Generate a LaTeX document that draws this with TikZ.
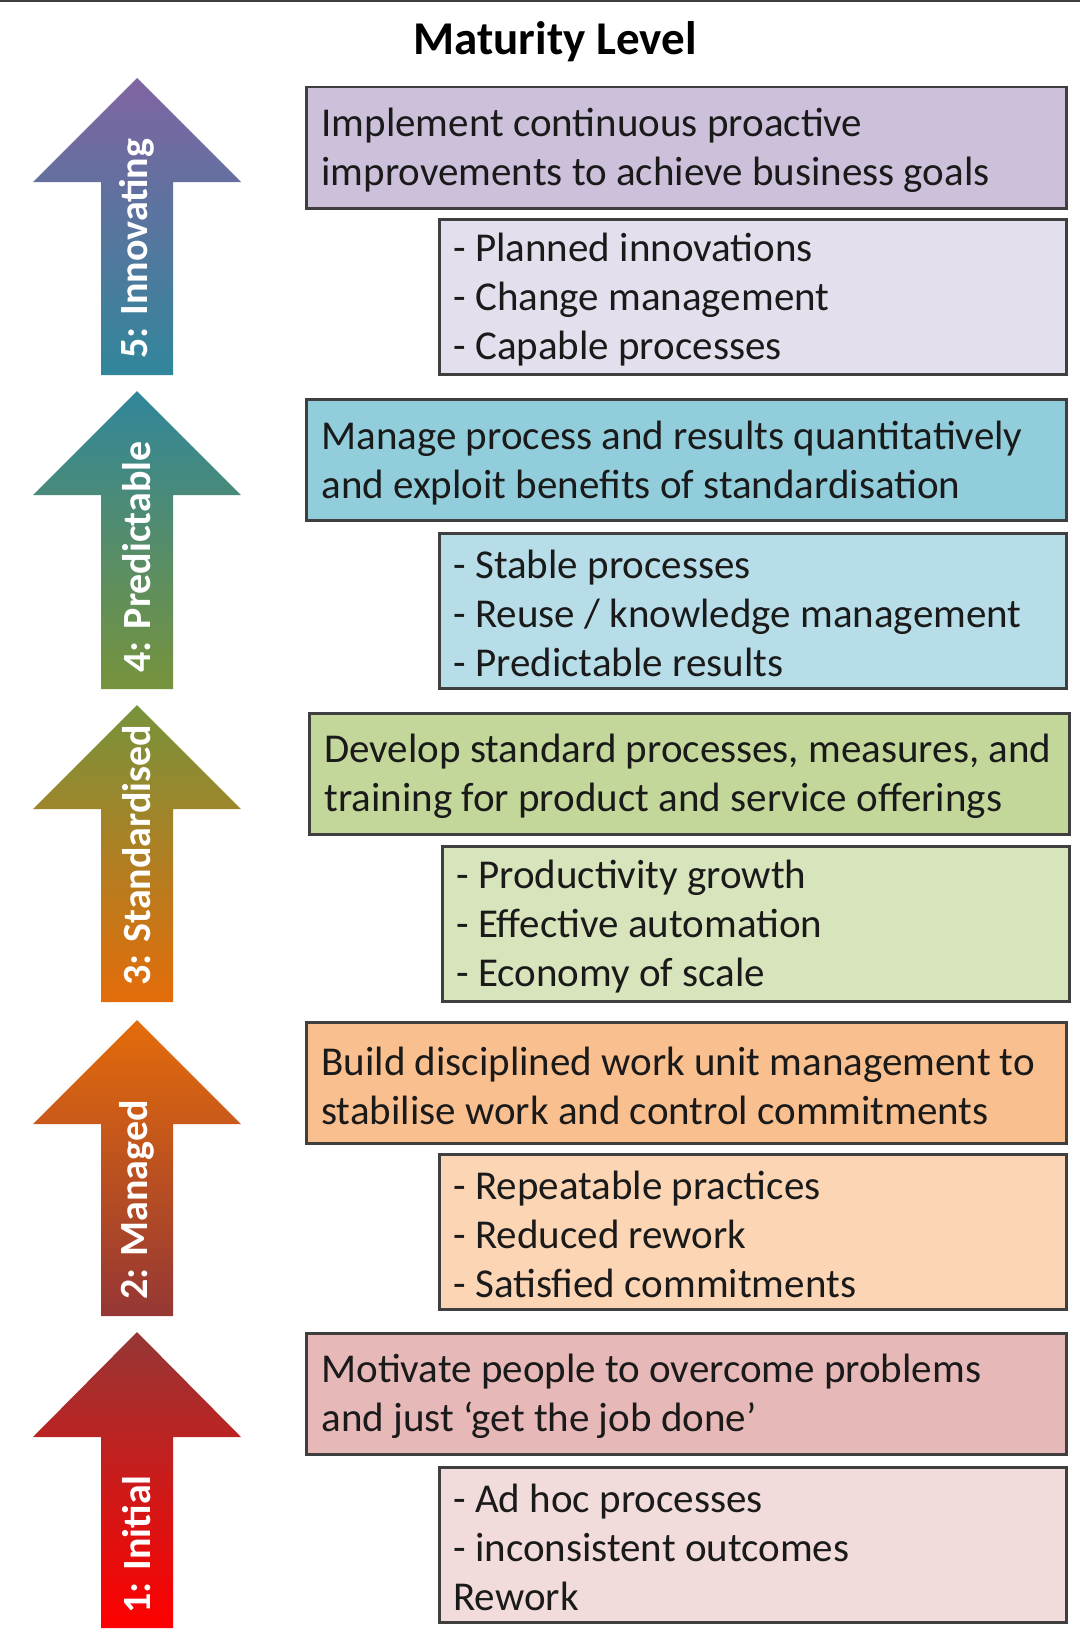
\documentclass[tikz,border=0pt]{standalone}
\usepackage{fontspec}
\setmainfont{Carlito}
\definecolor{linec}{HTML}{3F3F3F}
\definecolor{txt}{HTML}{1A1A1A}
\definecolor{mfive}{HTML}{CCC0DA}\definecolor{sfive}{HTML}{E4DFEC}
\definecolor{mfour}{HTML}{92CDDC}\definecolor{sfour}{HTML}{B7DEE8}
\definecolor{mthree}{HTML}{C4D79B}\definecolor{sthree}{HTML}{D8E4BC}
\definecolor{mtwo}{HTML}{FABF8F}\definecolor{stwo}{HTML}{FCD5B4}
\definecolor{mone}{HTML}{E6B8B7}\definecolor{sone}{HTML}{F2DCDB}
\definecolor{apurple}{HTML}{8064A2}
\definecolor{ateal}{HTML}{31869B}
\definecolor{agreen}{HTML}{77933C}
\definecolor{aorange}{HTML}{E46C0A}
\definecolor{adred}{HTML}{953735}
\definecolor{ared}{HTML}{FF0000}
\newcommand\mlarrow[3]{% tip, base, bottom
  (137,#1) -- (241,#2) -- (173,#2) -- (173,#3) -- (101,#3) -- (101,#2) -- (33,#2) -- cycle}
\begin{document}
\begin{tikzpicture}[x=0.5pt,y=-0.5pt,
  boxbase/.style={draw=linec, line width=1.25pt, anchor=north west, inner sep=0pt},
  mainbox/.style={boxbase, minimum width=380pt, minimum height=60.5pt},
  subbox/.style={boxbase, minimum width=313.5pt, minimum height=77.5pt},
  boxtext/.style={anchor=west, align=left, text=txt, inner sep=0pt,
    font=\fontsize{20.5}{24.5}\selectfont},
  arrowlabel/.style={rotate=90, anchor=west, text=white, inner sep=0pt,
    font=\fontsize{20}{24}\bfseries\selectfont}]
\useasboundingbox (0,0) rectangle (1080,1632);
\fill[white] (0,0) rectangle (1080,1632);
\draw[line width=1pt, linec] (0,1) -- (1080,1);

\node[font=\fontsize{23.5}{28}\bfseries\selectfont, text=black] (title) at (555,42) {Maturity Level};

% arrows
\shade[top color=apurple, bottom color=ateal] \mlarrow{78}{182}{375};
\shade[top color=ateal, bottom color=agreen] \mlarrow{391}{495}{689};
\shade[top color=agreen, bottom color=aorange] \mlarrow{705}{809}{1002};
\shade[top color=aorange, bottom color=adred] \mlarrow{1020}{1124}{1316};
\shade[top color=adred, bottom color=ared] \mlarrow{1332}{1437}{1628};

\node[arrowlabel] (l5) at (137,359) {5: Innovating};
\node[arrowlabel] (l4) at (137,673) {4: Predictable};
\node[arrowlabel] (l3) at (137,986) {3: Standardised};
\node[arrowlabel] (l2) at (137,1300) {2: Managed};
\node[arrowlabel] (l1) at (137,1614) {1: Initial};

% level 5
\node[mainbox, fill=mfive] (m5) at (305,86) {};
\node[boxtext] (m5t) at ([xshift=8pt,yshift=-1.5pt]m5.west) {Implement continuous proactive\\improvements to achieve business goals};
\node[subbox, fill=sfive] (s5) at (438,218) {};
\node[boxtext] (s5t) at ([xshift=7.5pt,yshift=-1.5pt]s5.west) {- Planned innovations\\- Change management\\- Capable processes};
% level 4
\node[mainbox, fill=mfour] (m4) at (305,398) {};
\node[boxtext] (m4t) at ([xshift=8pt,yshift=-1.5pt]m4.west) {Manage process and results quantitatively\\and exploit benefits of standardisation};
\node[subbox, fill=sfour] (s4) at (438,532) {};
\node[boxtext] (s4t) at ([xshift=7.5pt,yshift=-1.5pt]s4.west) {- Stable processes\\- Reuse / knowledge management\\- Predictable results};
% level 3
\node[mainbox, fill=mthree] (m3) at (308,712) {};
\node[boxtext] (m3t) at ([xshift=8pt,yshift=-1.5pt]m3.west) {Develop standard processes, measures, and\\training for product and service offerings};
\node[subbox, fill=sthree] (s3) at (441,845) {};
\node[boxtext] (s3t) at ([xshift=7.5pt,yshift=-1.5pt]s3.west) {- Productivity growth\\- Effective automation\\- Economy of scale};
% level 2
\node[mainbox, fill=mtwo] (m2) at (305,1021) {};
\node[boxtext] (m2t) at ([xshift=8pt,yshift=-1.5pt]m2.west) {Build disciplined work unit management to\\stabilise work and control commitments};
\node[subbox, fill=stwo] (s2) at (438,1153) {};
\node[boxtext] (s2t) at ([xshift=7.5pt,yshift=-1.5pt]s2.west) {- Repeatable practices\\- Reduced rework\\- Satisfied commitments};
% level 1
\node[mainbox, fill=mone] (m1) at (305,1332) {};
\node[boxtext] (m1t) at ([xshift=8pt,yshift=-1.5pt]m1.west) {Motivate people to overcome problems\\and just ‘get the job done’};
\node[subbox, fill=sone] (s1) at (438,1466) {};
\node[boxtext] (s1t) at ([xshift=7.5pt,yshift=-1.5pt]s1.west) {- Ad hoc processes\\- inconsistent outcomes\\Rework};
\end{tikzpicture}
\end{document}
